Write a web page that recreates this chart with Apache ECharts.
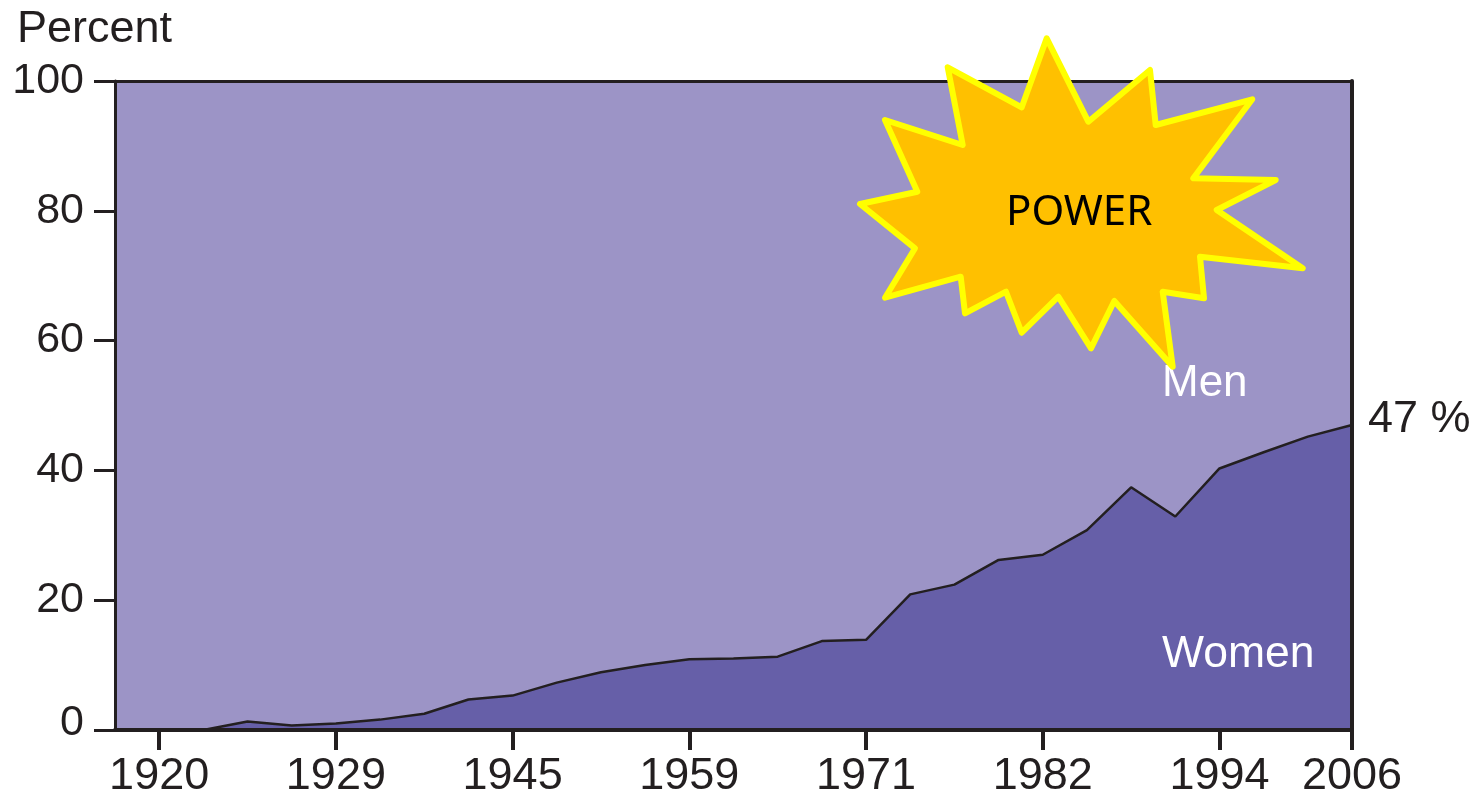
<!DOCTYPE html>
<html><head><meta charset="utf-8">
<style>html,body{margin:0;padding:0;background:#fff}#c{width:1478px;height:796px}</style>
<script src="https://cdn.jsdelivr.net/npm/echarts@6/dist/echarts.min.js"></script>
</head><body><div id="c"></div>
<script>
const categories = ['1919','1920','1923','1925','1927','1929','1933','1937','1941','1945','1949','1953','1956','1959','1962','1965','1968','1971','1974','1976','1979','1982','1985','1988','1991','1994','1998','2002','2006'];
const women = [0,0,0,1.3,0.7,1.0,1.6,2.5,4.7,5.3,7.3,8.9,10,10.9,11,11.3,13.7,13.9,20.9,22.4,26.2,27,30.8,37.4,32.9,40.3,42.8,45.2,47];
const men = [100,100,100,98.7,99.3,99,98.4,97.5,95.3,94.7,92.7,91.1,90,89.1,89,88.7,86.3,86.1,79.1,77.6,73.8,73,69.2,62.6,67.1,59.7,57.2,54.8,53];
const tickYears = ['1920','1929','1945','1959','1971','1982','1994','2006'];
const yTicks = [0,20,40,60,80,100];
const burstOutline = [[1046.7,38.3],[1088.3,121.7],[1150,70],[1155.7,125],[1252.3,99.3],[1193.3,178.3],[1275.7,180],[1216.7,210],[1302.7,268.3],[1200,256.7],[1204,298.3],[1162.7,291.7],[1172.7,366.7],[1114.3,301],[1091,348.3],[1058.3,296.7],[1021.7,332.7],[1006,291.7],[965,313.3],[960.7,276.7],[885,297.7],[915,248.3],[860,204],[917.3,191.7],[885,120],[962.7,145],[947.7,67.3],[1021.7,107.3]];

const FONT = '"Liberation Sans", Arial, sans-serif';
const INK = '#231f20';
const showTick = (i, v) => tickYears.includes(v);
const chart = echarts.init(document.getElementById('c'), null, {renderer:'canvas'});
chart.setOption({
  animation:false,
  backgroundColor:'#fff',
  grid:{left:115,right:126,top:81,bottom:66,containLabel:false,outerBoundsMode:'none'},
  xAxis:[{
    type:'category',data:categories,boundaryGap:false,position:'bottom',z:5,
    axisLine:{show:true,onZero:false,lineStyle:{color:INK,width:4}},
    axisTick:{show:true,interval:showTick,length:20,lineStyle:{color:INK,width:4}},
    axisLabel:{show:true,interval:showTick,margin:24,fontFamily:FONT,fontSize:45,color:INK,hideOverlap:false,showMaxLabel:true},
    splitLine:{show:false}
  },{
    type:'category',data:categories,boundaryGap:false,position:'top',z:5,
    axisLine:{show:true,onZero:false,lineStyle:{color:INK,width:3}},
    axisTick:{show:false},axisLabel:{show:false},splitLine:{show:false}
  }],
  yAxis:[{
    type:'value',min:0,max:100,interval:20,position:'left',z:5,
    axisLine:{show:true,onZero:false,lineStyle:{color:INK,width:3}},
    axisTick:{show:true,length:21,lineStyle:{color:INK,width:3}},
    axisLabel:{margin:31,fontFamily:FONT,fontSize:43,color:INK,customValues:yTicks,
      formatter:v=>v===0?'{zero|0}':String(v),
      rich:{zero:{fontFamily:FONT,fontSize:43,color:INK,padding:[0,0,14,0]}}},
    splitLine:{show:false},
    name:'Percent',nameLocation:'end',nameGap:29,
    nameTextStyle:{fontFamily:FONT,fontSize:45,color:INK,align:'left',padding:[0,0,0,-98]}
  },{
    type:'value',min:0,max:100,interval:20,position:'right',z:5,
    axisLine:{show:true,onZero:false,lineStyle:{color:INK,width:4}},
    axisTick:{show:false},axisLabel:{show:false},splitLine:{show:false}
  }],
  series:[{
    name:'Women',type:'line',stack:'share',data:women,symbol:'none',smooth:false,
    lineStyle:{color:INK,width:2.5},areaStyle:{color:'#665fa8',opacity:1},itemStyle:{color:'#665fa8'},
    endLabel:{show:true,formatter:p=>p.value+' %',fontFamily:FONT,fontSize:45,color:INK,distance:16,offset:[0,-5]},
    z:3
  },{
    name:'Men',type:'line',stack:'share',data:men,symbol:'none',
    lineStyle:{width:0},areaStyle:{color:'#9c94c6',opacity:1},itemStyle:{color:'#9c94c6'},z:2
  }],
  graphic:[
    {type:'text',left:1162,top:362,z:20,style:{text:'Men',fontFamily:FONT,fontSize:44,fill:'#fff'}},
    {type:'text',left:1162,top:632,z:20,style:{text:'Women',fontFamily:FONT,fontSize:44.5,fill:'#fff'}},
    {type:'polygon',z:30,shape:{points:burstOutline},style:{fill:'#ffc000',stroke:'#ffff00',lineWidth:6,lineJoin:'round'}},
    {type:'text',left:1006,top:192,z:31,style:{text:'POWER',fontFamily:'"Noto Sans", "Open Sans", sans-serif',fontSize:42,fill:'#000'}}
  ]
});
</script></body></html>
